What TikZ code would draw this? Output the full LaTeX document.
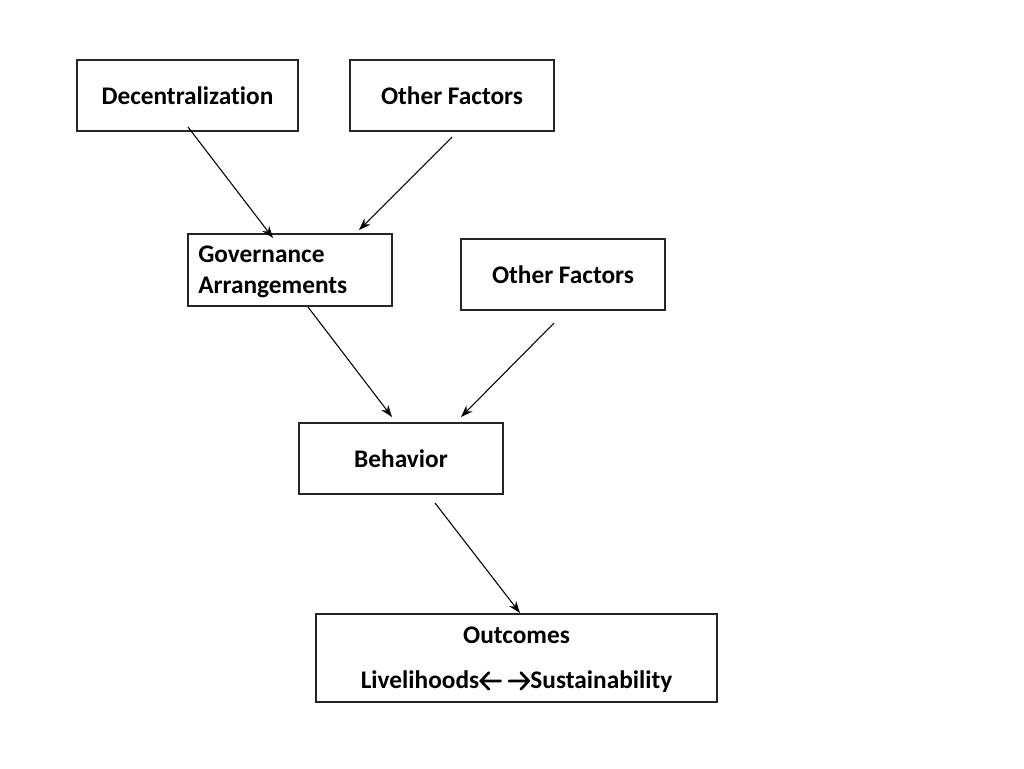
\documentclass[tikz,border=0pt]{standalone}
\usepackage{fontspec}
\setmainfont[Ligatures=NoCommon]{Carlito}
\usetikzlibrary{arrows.meta}
\newcommand{\myarrL}{\tikz[baseline=0pt,x=1cm,y=1cm]{\draw[line width=2pt,line cap=round,line join=round] (0.03,0.21) -- (0.56,0.21) (0.25,0.43) -- (0.04,0.21) -- (0.25,-0.01);}}
\newcommand{\myarrR}{\tikz[baseline=0pt,x=1cm,y=1cm]{\draw[line width=2pt,line cap=round,line join=round] (0.02,0.21) -- (0.55,0.21) (0.33,0.43) -- (0.54,0.21) -- (0.33,-0.01);}}
\begin{document}
\begin{tikzpicture}[x=0.75pt,y=-0.75pt,
  box/.style={draw=black!85,line width=0.8pt,inner sep=0pt,font=\fontsize{19}{23}\selectfont\bfseries},
  conn/.style={line width=0.8pt,-{Stealth[length=9pt,width=6.5pt]}}]
\useasboundingbox (0,0) rectangle (1024,768);
\node[box,minimum width=221*0.75pt,minimum height=71*0.75pt] (dec) at (187.5,95.5) {Decentralization};
\node[box,minimum width=204*0.75pt,minimum height=71*0.75pt] (of1) at (452,95.5) {Other Factors};
\node[box,minimum width=204*0.75pt,minimum height=72*0.75pt] (gov) at (290,270) {};
\node[font=\fontsize{19}{23.3}\selectfont\bfseries,align=left,anchor=west,inner sep=0pt] (govt) at (198,271.5) {Governance\\Arrangements};
\node[box,minimum width=204*0.75pt,minimum height=71*0.75pt] (of2) at (563,274.5) {Other Factors};
\node[box,minimum width=204*0.75pt,minimum height=71*0.75pt] (beh) at (401,458.5) {Behavior};
\node[box,minimum width=401*0.75pt,minimum height=88*0.75pt] (out) at (516.5,658) {};
\node[font=\fontsize{19}{23}\selectfont\bfseries,inner sep=0pt] (outt) at (516.5,635) {Outcomes};
\node[font=\fontsize{19}{23}\selectfont\bfseries,inner sep=0pt] (outl) at (516.5,682) {Livelihoods\myarrL\ \myarrR Sustainability};
\coordinate (a1s) at (188,127); \coordinate (a1e) at (273,238);
\coordinate (a2s) at (452,137); \coordinate (a2e) at (359,230);
\coordinate (a3s) at (308,307); \coordinate (a3e) at (392,417);
\coordinate (a4s) at (554,323); \coordinate (a4e) at (461,417);
\coordinate (a5s) at (435,503); \coordinate (a5e) at (520,613);
\draw[conn] (a1s) -- (a1e);
\draw[conn] (a2s) -- (a2e);
\draw[conn] (a3s) -- (a3e);
\draw[conn] (a4s) -- (a4e);
\draw[conn] (a5s) -- (a5e);
\end{tikzpicture}
\end{document}
